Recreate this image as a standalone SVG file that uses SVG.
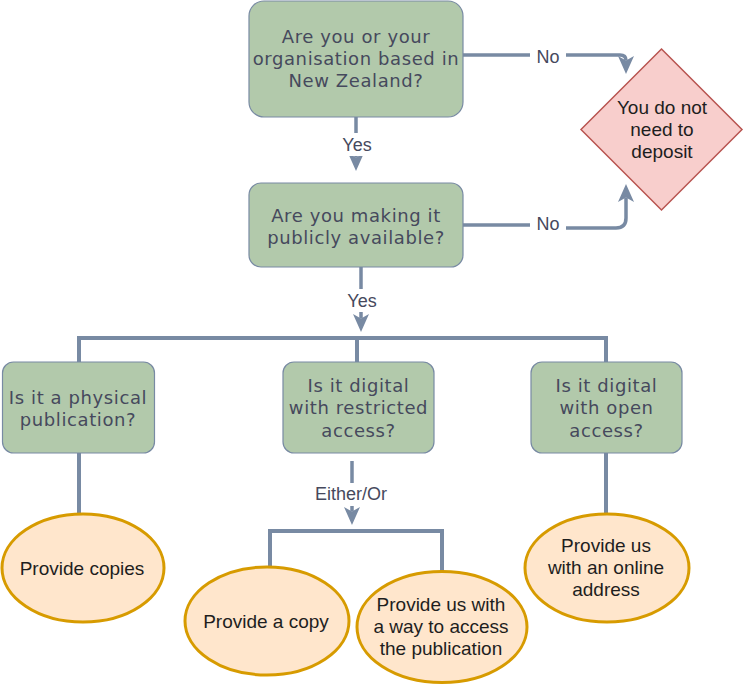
<svg xmlns="http://www.w3.org/2000/svg" width="744" height="684" viewBox="0 0 744 684">
<style>
.q{fill:#B2C9AB;stroke:#788AA3;stroke-width:1.2}
.qt{font-family:"DejaVu Sans",Verdana,sans-serif;font-size:18px;letter-spacing:0.6px;fill:#46495D;text-anchor:middle}
.o{fill:#FFE6CC;stroke:#D79B00;stroke-width:3}
.ot{font-family:"Liberation Sans",Arial,sans-serif;font-size:19px;fill:#1E1E1E;text-anchor:middle}
.d{fill:#F8CECC;stroke:#B85450;stroke-width:1.5}
.e{fill:none;stroke:#788AA3;stroke-width:3.5}
.b{fill:none;stroke:#788AA3;stroke-width:4}
.lb{fill:#FFFFFF}
.lt{font-family:"Liberation Sans",Arial,sans-serif;font-size:18px;fill:#46495D;text-anchor:middle}
</style>
<defs>
<marker id="arr" markerUnits="userSpaceOnUse" viewBox="0 0 18 16" refX="4.5" refY="8" markerWidth="18" markerHeight="16" orient="auto">
<path d="M0,0 L18,8 L0,16 L4.5,8 Z" fill="#788AA3"/>
</marker>
</defs>
<g id="connectors">
<path class="e" d="M463,55 H620 Q626,55 626,60.5" marker-end="url(#arr)"/>
<path class="e" d="M463,225 H548 V228 H616 Q626,228 626,218 V197.5" marker-end="url(#arr)"/>
<path class="e" d="M356,117 V157.5" marker-end="url(#arr)"/>
<path class="e" d="M361,267 V318.5" marker-end="url(#arr)"/>
<path class="b" d="M79,362 V338 H606 V362"/>
<path class="b" d="M357,338 V362"/>
<path class="b" d="M79,453 V514"/>
<path class="b" d="M606,453 V514"/>
<path class="e" d="M352,461 V511.5" marker-end="url(#arr)"/>
<path class="b" d="M270,569 V531 H442 V572"/>
<rect class="lb" x="530" y="44" width="36" height="24"/>
<text class="lt" x="548" y="63">No</text>
<rect class="lb" x="530" y="214" width="36" height="24"/>
<text class="lt" x="548" y="230">No</text>
<rect class="lb" x="340" y="133" width="34" height="23"/>
<text class="lt" x="357" y="151">Yes</text>
<rect class="lb" x="345" y="289" width="34" height="23"/>
<text class="lt" x="362" y="307">Yes</text>
<rect class="lb" x="312" y="483" width="80" height="23"/>
<text class="lt" x="351" y="500">Either/Or</text>
</g>
<g id="n-nz">
<rect class="q" x="249" y="1" width="214" height="116" rx="15"/>
<text class="qt" x="356" y="43">Are you or your</text>
<text class="qt" x="356" y="65">organisation based in</text>
<text class="qt" x="356" y="87">New Zealand?</text>
</g>
<g id="n-public">
<rect class="q" x="249" y="183" width="214" height="84" rx="12"/>
<text class="qt" x="356" y="222">Are you making it</text>
<text class="qt" x="356" y="244">publicly available?</text>
</g>
<g id="n-nodeposit">
<polygon class="d" points="661.5,49 742,129.5 661.5,210 581,129.5"/>
<text class="ot" x="662" y="114">You do not</text>
<text class="ot" x="662" y="136">need to</text>
<text class="ot" x="662" y="158">deposit</text>
</g>
<g id="n-physical">
<rect class="q" x="2.5" y="362" width="152" height="91" rx="11"/>
<text class="qt" x="78" y="404">Is it a physical</text>
<text class="qt" x="78" y="426">publication?</text>
</g>
<g id="n-restricted">
<rect class="q" x="283" y="362" width="151" height="91" rx="11"/>
<text class="qt" x="358.5" y="392">Is it digital</text>
<text class="qt" x="358.5" y="414">with restricted</text>
<text class="qt" x="358.5" y="437">access?</text>
</g>
<g id="n-open">
<rect class="q" x="531" y="362" width="151" height="91" rx="11"/>
<text class="qt" x="606.5" y="392">Is it digital</text>
<text class="qt" x="606.5" y="414">with open</text>
<text class="qt" x="606.5" y="437">access?</text>
</g>
<g id="n-copies">
<ellipse class="o" cx="83" cy="568" rx="81" ry="54"/>
<text class="ot" x="82" y="575">Provide copies</text>
</g>
<g id="n-copy">
<ellipse class="o" cx="267" cy="621" rx="82" ry="54"/>
<text class="ot" x="266" y="628">Provide a copy</text>
</g>
<g id="n-access">
<ellipse class="o" cx="442" cy="627" rx="85" ry="55.5"/>
<text class="ot" x="441" y="611">Provide us with</text>
<text class="ot" x="441" y="633">a way to access</text>
<text class="ot" x="441" y="655">the publication</text>
</g>
<g id="n-online">
<ellipse class="o" cx="607" cy="568" rx="82" ry="54"/>
<text class="ot" x="606" y="552">Provide us</text>
<text class="ot" x="606" y="574">with an online</text>
<text class="ot" x="606" y="596">address</text>
</g>
</svg>
